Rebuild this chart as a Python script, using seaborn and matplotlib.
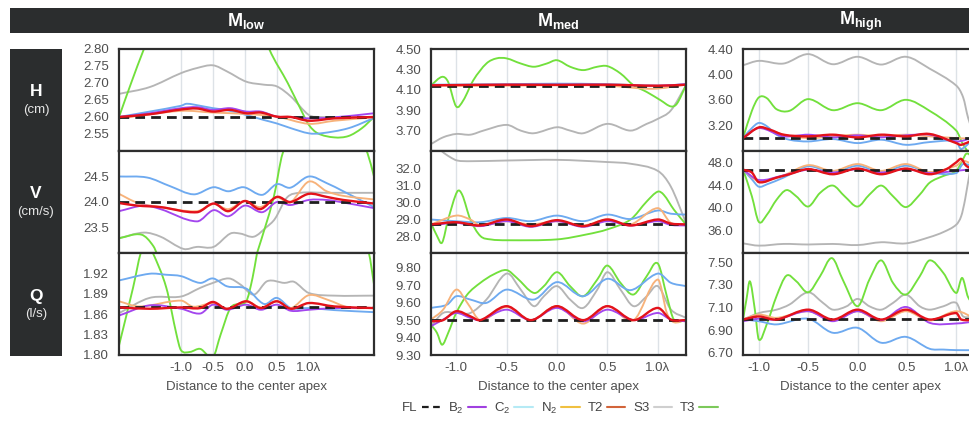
import numpy as np
import matplotlib
matplotlib.use("Agg")
import matplotlib.pyplot as plt
import seaborn as sns
from matplotlib.path import Path
from matplotlib.patches import PathPatch, Rectangle
from matplotlib.lines import Line2D
from matplotlib.ticker import FixedLocator, FormatStrFormatter

# ------------------------------------------------------------------
# Data: distance to the center apex (in wavelengths) vs. H, V, Q
# for three discharge levels (low / med / high) and six bed models.
# ------------------------------------------------------------------
SERIES = ["B2", "C2", "N2", "T2", "S3", "T3"]

# ---------------- M_low ----------------
HL_FL = 2.60
HL_B2_X = [-1.97, -1.49, -1.0, -0.75, -0.5, -0.23, 0.02, 0.25, 0.5, 0.72, 1.0, 1.4, 2.02]
HL_B2 = [2.600, 2.611, 2.626, 2.629, 2.621, 2.626, 2.616, 2.616, 2.601, 2.600, 2.596, 2.599, 2.611]
HL_C2_X = [-1.97, -1.49, -1.0, -0.91, -0.70, -0.5, -0.28, 0.02, 0.30, 0.5, 0.72, 1.0, 1.19, 1.62, 2.02]
HL_C2 = [2.600, 2.616, 2.633, 2.639, 2.633, 2.626, 2.620, 2.606, 2.591, 2.581, 2.567, 2.552, 2.552, 2.567, 2.597]
HL_N2_X = [-1.97, -1.0, -0.5, 0.02, 0.5, 1.0, 1.4, 2.02]
HL_N2 = [2.596, 2.618, 2.613, 2.609, 2.601, 2.580, 2.589, 2.599]
HL_T2_X = [-1.97, -1.49, -1.0, -0.75, -0.5, -0.23, 0.02, 0.25, 0.5, 0.72, 1.0, 1.4, 2.02]
HL_T2 = [2.600, 2.608, 2.622, 2.625, 2.616, 2.621, 2.611, 2.613, 2.601, 2.600, 2.589, 2.596, 2.600]
HL_S3_X = [-1.97, -1.49, -1.0, -0.75, -0.5, -0.28, 0.02, 0.30, 0.5, 0.72, 1.0, 1.19, 1.4, 2.02]
HL_S3 = [2.668, 2.688, 2.729, 2.744, 2.752, 2.734, 2.704, 2.695, 2.690, 2.660, 2.606, 2.600, 2.600, 2.600]
HL_T3_X = [-1.97, -1.78, -1.58, -1.3, -0.9, -0.5, -0.1, 0.2, 0.38, 0.67, 0.88, 1.0, 1.14, 1.4, 1.62, 1.83, 2.02]
HL_T3 = [2.600, 2.700, 2.800, 2.930, 3.000, 3.020, 2.980, 2.900, 2.800, 2.700, 2.620, 2.577, 2.552, 2.540, 2.544, 2.567, 2.600]

VL_FL = 24.0
VL_B2_X = [-1.97, -1.58, -1.32, -0.75, -0.49, -0.26, 0.0, 0.27, 0.5, 0.71, 1.0, 1.28, 1.54, 2.02]
VL_B2 = [23.82, 23.93, 23.86, 23.62, 23.84, 23.72, 23.93, 23.80, 24.00, 23.94, 24.04, 24.04, 23.99, 23.88]
VL_C2_X = [-1.97, -1.53, -1.17, -0.80, -0.49, -0.26, -0.02, 0.27, 0.5, 0.71, 1.0, 1.28, 1.54, 2.02]
VL_C2 = [24.50, 24.48, 24.31, 24.15, 24.29, 24.21, 24.29, 24.14, 24.35, 24.28, 24.50, 24.37, 24.21, 23.90]
VL_N2_X = [-1.97, -1.69, -1.32, -0.75, -0.49, -0.26, 0.0, 0.24, 0.5, 0.71, 1.0, 1.28, 1.54, 2.02]
VL_N2 = [24.16, 23.99, 23.90, 23.82, 23.96, 23.86, 24.02, 23.90, 24.09, 23.99, 24.40, 24.21, 24.12, 24.05]
VL_T2_X = [-1.97, -1.69, -1.32, -0.75, -0.49, -0.26, 0.0, 0.24, 0.5, 0.71, 1.0, 1.28, 1.54, 2.02]
VL_T2 = [23.98, 23.93, 23.90, 23.80, 23.97, 23.82, 24.02, 23.86, 24.10, 24.00, 24.16, 24.10, 24.04, 23.97]
VL_S3_X = [-1.97, -1.58, -1.32, -0.96, -0.75, -0.49, -0.23, -0.07, 0.14, 0.34, 0.47, 0.66, 0.86, 1.28, 2.02]
VL_S3 = [23.29, 23.40, 23.32, 23.08, 23.12, 23.12, 23.38, 23.38, 23.32, 23.51, 23.67, 24.09, 24.18, 24.18, 24.18]
VL_T3_X = [-1.97, -1.62, -1.43, -1.32, -1.0, -0.5, 0.0, 0.19, 0.45, 0.59, 0.9, 1.3, 1.7, 1.92, 2.02]
VL_T3 = [23.29, 23.36, 23.13, 22.81, 22.20, 21.90, 22.30, 23.00, 24.09, 24.95, 25.80, 26.00, 25.60, 24.95, 24.50]

QL_FL = 1.87
QL_B2_X = [-1.97, -1.49, -1.0, -0.70, -0.5, -0.28, 0.02, 0.25, 0.5, 0.72, 1.0, 1.4, 2.02]
QL_B2 = [1.858, 1.873, 1.868, 1.861, 1.874, 1.8665, 1.874, 1.8665, 1.874, 1.865, 1.8665, 1.869, 1.869]
QL_C2_X = [-1.97, -1.49, -1.23, -1.0, -0.70, -0.5, -0.28, 0.02, 0.30, 0.5, 0.72, 1.0, 1.4, 2.02]
QL_C2 = [1.9096, 1.9195, 1.918, 1.916, 1.906, 1.9126, 1.901, 1.8977, 1.875, 1.884, 1.869, 1.869, 1.866, 1.863]
QL_N2_X = [-1.97, -1.65, -1.0, -0.81, -0.5, -0.28, 0.02, 0.25, 0.5, 0.72, 1.0, 1.3, 1.62, 2.02]
QL_N2 = [1.879, 1.8714, 1.880, 1.871, 1.876, 1.868, 1.879, 1.870, 1.879, 1.869, 1.888, 1.881, 1.870, 1.869]
QL_T2_X = [-1.97, -1.49, -1.0, -0.70, -0.5, -0.28, 0.02, 0.25, 0.5, 0.72, 1.0, 1.4, 2.02]
QL_T2 = [1.870, 1.868, 1.870, 1.869, 1.878, 1.868, 1.879, 1.869, 1.879, 1.868, 1.8764, 1.8714, 1.869]
QL_S3_X = [-1.97, -1.49, -1.0, -0.70, -0.5, -0.25, -0.07, 0.14, 0.35, 0.62, 0.77, 1.0, 1.4, 2.02]
QL_S3 = [1.8615, 1.884, 1.886, 1.8987, 1.906, 1.9126, 1.9036, 1.8888, 1.9086, 1.906, 1.9076, 1.8912, 1.8873, 1.8873]
QL_T3_X = [-1.97, -1.75, -1.63, -1.54, -1.44, -1.23, -1.07, -1.0, -0.86, -0.70, -0.5, -0.38, -0.22, 0.02, 0.12, 0.19, 0.4, 0.9, 1.5, 1.94, 2.02]
QL_T3 = [1.814, 1.899, 1.950, 1.965, 1.950, 1.899, 1.830, 1.807, 1.8045, 1.809, 1.797, 1.830, 1.870, 1.879, 1.9136, 1.950, 2.050, 2.150, 2.100, 1.950, 1.904]

# ---------------- M_med ----------------
HM_FL = 4.14
HM_B2_X = [-1.25, -0.5, 0.0, 0.5, 1.0, 1.28]
HM_B2 = [4.145, 4.150, 4.150, 4.150, 4.140, 4.155]
HM_C2_X = [-1.25, -0.5, 0.0, 0.5, 1.0, 1.28]
HM_C2 = [4.150, 4.155, 4.160, 4.155, 4.140, 4.155]
HM_N2_X = [-1.25, -0.5, 0.0, 0.5, 0.95, 1.28]
HM_N2 = [4.140, 4.140, 4.145, 4.140, 4.110, 4.150]
HM_T2_X = [-1.25, -0.5, 0.0, 0.5, 1.0, 1.28]
HM_T2 = [4.144, 4.150, 4.148, 4.150, 4.140, 4.150]
HM_S3_X = [-1.25, -1.13, -1.0, -0.86, -0.73, -0.5, -0.36, -0.23, 0.0, 0.13, 0.26, 0.5, 0.73, 0.89, 1.0, 1.13, 1.28]
HM_S3 = [3.568, 3.634, 3.667, 3.660, 3.700, 3.756, 3.700, 3.674, 3.733, 3.700, 3.674, 3.766, 3.700, 3.766, 3.815, 3.898, 4.144]
HM_T3_X = [-1.25, -1.14, -1.08, -1.0, -0.93, -0.83, -0.70, -0.60, -0.5, -0.36, -0.23, -0.10, 0.0, 0.13, 0.26, 0.40, 0.5, 0.63, 0.76, 0.89, 1.03, 1.13, 1.19, 1.28]
HM_T3 = [4.144, 4.227, 4.177, 3.937, 3.996, 4.194, 4.358, 4.408, 4.408, 4.358, 4.326, 4.358, 4.390, 4.326, 4.293, 4.326, 4.332, 4.260, 4.144, 4.079, 3.996, 3.937, 3.964, 4.144]

VM_FL = 28.7
VM_B2_X = [-1.25, -1.0, -0.76, -0.5, -0.26, 0.0, 0.26, 0.5, 0.73, 1.0, 1.13, 1.28]
VM_B2 = [28.62, 28.77, 28.58, 28.87, 28.54, 28.87, 28.54, 28.87, 28.62, 28.87, 28.65, 28.62]
VM_C2_X = [-1.25, -1.0, -0.76, -0.5, -0.26, 0.0, 0.26, 0.5, 0.73, 1.0, 1.13, 1.28]
VM_C2 = [28.97, 28.87, 28.81, 29.06, 28.87, 29.20, 28.87, 29.26, 29.00, 29.50, 29.31, 29.26]
VM_N2_X = [-1.25, -1.0, -0.86, -0.76, -0.5, -0.26, 0.0, 0.26, 0.5, 0.73, 1.0, 1.13, 1.28]
VM_N2 = [28.68, 29.20, 28.97, 28.62, 28.87, 28.68, 28.87, 28.62, 28.97, 28.68, 29.64, 28.77, 28.68]
VM_T2_X = [-1.25, -1.0, -0.76, -0.5, -0.26, 0.0, 0.26, 0.5, 0.73, 1.0, 1.13, 1.28]
VM_T2 = [28.68, 28.81, 28.62, 28.97, 28.58, 28.93, 28.58, 28.97, 28.62, 28.97, 28.73, 28.68]
VM_S3_X = [-1.25, -1.14, -1.06, -0.99, -0.86, -0.5, 0.0, 0.5, 0.73, 1.0, 1.13, 1.28]
VM_S3 = [33.60, 32.97, 32.64, 32.44, 32.40, 32.44, 32.48, 32.35, 32.25, 31.83, 30.90, 28.77]
VM_T3_X = [-1.25, -1.19, -1.14, -1.08, -0.99, -0.94, -0.86, -0.76, -0.66, -0.5, 0.0, 0.30, 0.5, 0.73, 0.89, 1.0, 1.06, 1.16, 1.28]
VM_T3 = [28.77, 28.00, 27.61, 28.97, 30.61, 30.42, 28.97, 28.00, 27.80, 27.75, 27.80, 28.10, 28.39, 28.97, 30.03, 30.61, 30.42, 29.55, 28.68]

QM_FL = 9.50
QM_B2_X = [-1.25, -1.13, -1.0, -0.86, -0.76, -0.5, -0.26, 0.0, 0.26, 0.5, 0.76, 1.0, 1.13, 1.28]
QM_B2 = [9.465, 9.503, 9.541, 9.513, 9.500, 9.560, 9.500, 9.570, 9.493, 9.560, 9.500, 9.541, 9.503, 9.493]
QM_C2_X = [-1.25, -1.09, -1.0, -0.86, -0.70, -0.5, -0.23, 0.0, 0.26, 0.5, 0.73, 1.0, 1.13, 1.28]
QM_C2 = [9.570, 9.589, 9.637, 9.618, 9.599, 9.675, 9.618, 9.718, 9.637, 9.737, 9.672, 9.767, 9.714, 9.695]
QM_N2_X = [-1.25, -1.13, -1.0, -0.89, -0.76, -0.5, -0.26, 0.0, 0.26, 0.5, 0.76, 1.0, 1.09, 1.16, 1.28]
QM_N2 = [9.503, 9.560, 9.675, 9.599, 9.500, 9.576, 9.500, 9.580, 9.480, 9.580, 9.500, 9.733, 9.541, 9.488, 9.503]
QM_T2_X = [-1.25, -1.13, -1.0, -0.86, -0.76, -0.5, -0.26, 0.0, 0.26, 0.5, 0.76, 1.0, 1.13, 1.28]
QM_T2 = [9.493, 9.500, 9.551, 9.522, 9.500, 9.580, 9.500, 9.580, 9.500, 9.580, 9.500, 9.570, 9.503, 9.500]
QM_S3_X = [-1.25, -1.13, -1.0, -0.86, -0.70, -0.5, -0.36, -0.23, -0.13, 0.0, 0.13, 0.26, 0.40, 0.5, 0.63, 0.76, 0.89, 1.0, 1.13, 1.28]
QM_S3 = [9.465, 9.541, 9.541, 9.541, 9.618, 9.767, 9.675, 9.580, 9.637, 9.695, 9.618, 9.570, 9.675, 9.775, 9.675, 9.580, 9.637, 9.695, 9.561, 9.513]
QM_T3_X = [-1.25, -1.19, -1.14, -1.08, -1.0, -0.89, -0.76, -0.63, -0.5, -0.40, -0.23, -0.13, 0.0, 0.13, 0.26, 0.40, 0.5, 0.63, 0.76, 0.89, 1.0, 1.09, 1.16, 1.28]
QM_T3 = [9.474, 9.426, 9.359, 9.426, 9.541, 9.647, 9.714, 9.762, 9.787, 9.743, 9.656, 9.695, 9.775, 9.695, 9.637, 9.733, 9.813, 9.714, 9.647, 9.752, 9.825, 9.637, 9.503, 9.500]

# ---------------- M_high ----------------
HH_FL = 3.00
HH_B2_X = [-1.16, -1.0, -0.75, -0.5, -0.25, 0.0, 0.24, 0.49, 0.73, 1.0, 1.21]
HH_B2 = [3.000, 3.160, 3.030, 3.056, 3.014, 3.046, 3.014, 3.046, 3.056, 2.950, 3.030]
HH_C2_X = [-1.16, -1.07, -1.0, -0.92, -0.82, -0.69, -0.5, -0.25, 0.0, 0.24, 0.49, 0.73, 1.0, 1.05, 1.21]
HH_C2 = [3.003, 3.160, 3.240, 3.190, 3.056, 2.977, 2.950, 2.987, 2.924, 2.977, 2.897, 2.940, 2.950, 2.830, 3.060]
HH_N2_X = [-1.16, -1.0, -0.75, -0.5, -0.25, 0.0, 0.24, 0.49, 0.73, 1.0, 1.21]
HH_N2 = [3.003, 3.160, 3.056, 3.003, 3.030, 3.056, 3.030, 3.056, 3.030, 3.003, 2.990]
HH_T2_X = [-1.16, -1.0, -0.89, -0.75, -0.5, -0.25, 0.0, 0.24, 0.49, 0.73, 1.0, 1.05, 1.21]
HH_T2 = [3.003, 3.170, 3.136, 3.056, 3.030, 3.056, 3.014, 3.056, 3.030, 3.067, 2.924, 2.897, 3.003]
HH_S3_X = [-1.16, -1.0, -0.75, -0.5, -0.25, 0.0, 0.24, 0.49, 0.73, 1.0, 1.07, 1.12, 1.21]
HH_S3 = [4.145, 4.214, 4.172, 4.320, 4.161, 4.278, 4.156, 4.278, 4.092, 3.826, 3.640, 3.320, 2.900]
HH_T3_X = [-1.16, -1.07, -1.0, -0.92, -0.82, -0.69, -0.5, -0.25, 0.0, 0.24, 0.49, 0.73, 1.0, 1.07, 1.21]
HH_T3 = [3.003, 3.430, 3.640, 3.630, 3.455, 3.430, 3.614, 3.440, 3.550, 3.440, 3.603, 3.430, 3.120, 2.900, 2.600]

VH_FL = 46.7
VH_B2_X = [-1.16, -1.0, -0.75, -0.5, -0.25, 0.0, 0.24, 0.49, 0.73, 1.0, 1.21]
VH_B2 = [46.7, 44.9, 45.7, 46.7, 46.2, 46.8, 46.2, 46.8, 46.1, 46.5, 46.9]
VH_C2_X = [-1.16, -1.07, -1.0, -0.92, -0.75, -0.5, -0.25, 0.0, 0.24, 0.49, 0.73, 1.0, 1.07, 1.21]
VH_C2 = [46.7, 45.0, 43.7, 44.1, 45.3, 47.3, 46.2, 47.4, 46.2, 47.4, 46.2, 46.1, 47.7, 46.8]
VH_N2_X = [-1.16, -1.0, -0.75, -0.5, -0.25, 0.0, 0.24, 0.49, 0.73, 1.0, 1.07, 1.21]
VH_N2 = [46.7, 44.7, 45.7, 47.5, 46.5, 47.7, 46.5, 47.7, 46.3, 47.4, 48.3, 47.1]
VH_T2_X = [-1.16, -1.07, -1.0, -0.82, -0.69, -0.5, -0.25, 0.0, 0.24, 0.49, 0.73, 0.9, 1.0, 1.05, 1.1, 1.21]
VH_T2 = [46.7, 46.2, 44.5, 45.3, 45.9, 46.8, 45.9, 46.9, 45.9, 46.9, 45.9, 46.8, 48.0, 48.6, 47.4, 46.5]
VH_S3_X = [-1.16, -1.0, -0.75, -0.5, -0.25, 0.0, 0.24, 0.49, 0.73, 0.87, 1.0, 1.05, 1.09, 1.14, 1.21]
VH_S3 = [33.7, 33.3, 33.6, 33.5, 33.6, 33.4, 33.9, 33.7, 34.8, 35.7, 37.0, 38.5, 41.5, 46.5, 52.0]
VH_T3_X = [-1.16, -1.07, -1.0, -0.92, -0.82, -0.72, -0.62, -0.5, -0.38, -0.25, -0.13, 0.0, 0.12, 0.24, 0.36, 0.49, 0.63, 0.73, 0.87, 1.0, 1.07, 1.10, 1.14, 1.21]
VH_T3 = [46.8, 42.0, 37.5, 38.7, 41.4, 43.1, 42.0, 40.2, 42.6, 43.9, 42.0, 40.2, 42.3, 43.9, 42.0, 40.1, 42.3, 44.4, 45.6, 46.5, 48.6, 49.5, 49.2, 46.5]

QH_FL = 7.00
QH_B2_X = [-1.16, -1.0, -0.82, -0.5, -0.25, 0.0, 0.24, 0.49, 0.73, 1.0, 1.21]
QH_B2 = [6.978, 7.000, 6.993, 7.066, 6.978, 7.066, 6.987, 7.104, 6.964, 6.958, 6.978]
QH_C2_X = [-1.16, -1.0, -0.82, -0.5, -0.25, 0.0, 0.24, 0.49, 0.73, 0.87, 1.0, 1.21]
QH_C2 = [6.993, 6.978, 6.950, 7.000, 6.876, 6.920, 6.788, 6.840, 6.735, 6.728, 6.723, 6.723]
QH_N2_X = [-1.16, -1.0, -0.82, -0.5, -0.25, 0.0, 0.24, 0.49, 0.73, 1.0, 1.21]
QH_N2 = [6.993, 7.037, 7.008, 7.066, 6.984, 7.066, 6.978, 7.066, 6.984, 7.066, 6.993]
QH_T2_X = [-1.16, -1.0, -0.82, -0.5, -0.25, 0.0, 0.24, 0.49, 0.73, 1.0, 1.05, 1.21]
QH_T2 = [6.993, 7.020, 6.993, 7.080, 6.993, 7.080, 6.993, 7.080, 6.993, 7.050, 6.993, 6.993]
QH_S3_X = [-1.16, -1.0, -0.82, -0.69, -0.5, -0.35, -0.25, -0.11, 0.0, 0.12, 0.24, 0.36, 0.49, 0.63, 0.73, 0.87, 1.0, 1.07, 1.21]
QH_S3 = [6.993, 7.050, 7.080, 7.125, 7.233, 7.140, 7.080, 7.110, 7.175, 7.110, 7.080, 7.140, 7.213, 7.110, 7.080, 7.110, 7.140, 7.020, 7.037]
QH_T3_X = [-1.16, -1.125, -1.09, -1.04, -1.0, -0.92, -0.82, -0.72, -0.62, -0.5, -0.38, -0.26, -0.15, 0.0, 0.12, 0.24, 0.36, 0.49, 0.63, 0.73, 0.87, 1.0, 1.06, 1.12, 1.21]
QH_T3 = [6.993, 7.170, 7.330, 7.080, 6.817, 6.950, 7.200, 7.380, 7.330, 7.233, 7.374, 7.535, 7.345, 7.110, 7.345, 7.515, 7.315, 7.213, 7.374, 7.515, 7.403, 7.227, 7.360, 7.190, 7.100]

# Axis ranges and tick labels
COLUMN_TITLES = ["low", "med", "high"]
ROW_NAMES = ["H", "V", "Q"]
ROW_UNITS = ["(cm)", "(cm/s)", "(l/s)"]
X_LIMITS = [(-1.97, 2.02), (-1.25, 1.28), (-1.16, 1.21)]
X_TICKS = [-1.0, -0.5, 0.0, 0.5, 1.0]
X_TICK_LABELS = ["-1.0", "-0.5", "0.0", "0.5", "1.0λ"]
Y_LIMITS = [
    [(2.50, 2.80), (3.50, 4.50), (2.80, 4.40)],
    [(23.0, 25.0), (27.0, 33.0), (32.0, 50.0)],
    [(1.80, 1.95), (9.30, 9.885), (6.68, 7.58)],
]
Y_TICKS = [
    [[2.55, 2.60, 2.65, 2.70, 2.75, 2.80], [3.70, 3.90, 4.10, 4.30, 4.50], [3.20, 3.60, 4.00, 4.40]],
    [[23.5, 24.0, 24.5], [28.0, 29.0, 30.0, 31.0, 32.0], [36.0, 40.0, 44.0, 48.0]],
    [[1.80, 1.83, 1.86, 1.89, 1.92], [9.30, 9.40, 9.50, 9.60, 9.70, 9.80], [6.70, 6.90, 7.10, 7.30, 7.50]],
]
Y_FORMATS = ["%.2f", "%.1f", "%.2f"]

g = globals()
PANELS = {}
for r, rk in enumerate(["H", "V", "Q"]):
    for c, ck in enumerate(["L", "M", "H"]):
        key = rk + ck
        PANELS[(r, c)] = {
            "FL": g[key + "_FL"],
            "series": {s: (g[f"{key}_{s}_X"], g[f"{key}_{s}"]) for s in SERIES},
        }

# ------------------------------------------------------------------
# Style
# ------------------------------------------------------------------
sns.set_theme(style="white")
plt.rcParams.update({
    "font.family": ["Liberation Sans", "DejaVu Sans"],
    "mathtext.fontset": "custom",
    "mathtext.rm": "Liberation Sans",
    "mathtext.it": "Liberation Sans:italic",
    "mathtext.bf": "Liberation Sans:bold",
    "mathtext.default": "regular",
})

LINE_COLORS = {"B2": "#a346ee", "C2": "#6eaaf0", "N2": "#f7b27a",
               "T2": "#e3121b", "S3": "#b5b5b5", "T3": "#72e03c"}
KEY_COLORS = {"B2": "#a040e0", "C2": "#b5eaf5", "N2": "#f0c040",
              "T2": "#d2643a", "S3": "#cfcfcf", "T3": "#7cc95a"}
LINE_WIDTHS = {"B2": 1.35, "C2": 1.35, "N2": 1.35, "T2": 1.7, "S3": 1.35, "T3": 1.35}
ZORDER = {"S3": 2.0, "T3": 2.1, "C2": 2.2, "N2": 2.3, "B2": 2.4, "T2": 2.6}
FL_COLOR = "#1e1e1e"
DARK = "#2b2d2e"
SPINE = "#2e2e2e"
TEXT = "#4f4f4f"

W, H = 970, 422
fig = plt.figure(figsize=(W / 100, H / 100), dpi=100)


def fx(px):
    return px / W


def fy(py):
    return 1 - py / H


COL_LEFT = [119, 431, 743]
COL_WIDTH = [255, 255, 234]
ROW_TOP = [49, 151, 253]
ROW_HEIGHT = 102


def smooth_path(x, y):
    """Cubic Hermite curve through the given points, as a Bezier path."""
    x = np.asarray(x, float)
    y = np.asarray(y, float)
    m = np.empty_like(y)
    m[0] = (y[1] - y[0]) / (x[1] - x[0])
    m[-1] = (y[-1] - y[-2]) / (x[-1] - x[-2])
    m[1:-1] = (y[2:] - y[:-2]) / (x[2:] - x[:-2])
    verts = [(x[0], y[0])]
    codes = [Path.MOVETO]
    for i in range(len(x) - 1):
        d = (x[i + 1] - x[i]) / 3.0
        verts += [(x[i] + d, y[i] + m[i] * d),
                  (x[i + 1] - d, y[i + 1] - m[i + 1] * d),
                  (x[i + 1], y[i + 1])]
        codes += [Path.CURVE4] * 3
    return Path(verts, codes)


# Header bar and row-label strip
fig.patches.append(Rectangle((fx(10), fy(33)), fx(960), (33 - 8) / H,
                             transform=fig.transFigure, facecolor=DARK,
                             edgecolor="none", zorder=0))
fig.patches.append(Rectangle((fx(10), fy(356)), fx(52), (356 - 49) / H,
                             transform=fig.transFigure, facecolor=DARK,
                             edgecolor="none", zorder=0))

for c, name in enumerate(COLUMN_TITLES):
    cx = COL_LEFT[c] + COL_WIDTH[c] / 2
    fig.text(fx(cx), fy(21), r"$\mathbf{M}_{\mathbf{%s}}$" % name,
             ha="center", va="center", color="white", fontsize=13)

for r in range(3):
    cy = ROW_TOP[r] + ROW_HEIGHT / 2
    fig.text(fx(36), fy(cy - 8), ROW_NAMES[r], ha="center", va="center",
             color="white", fontsize=12.5, fontweight="bold")
    fig.text(fx(36), fy(cy + 10), ROW_UNITS[r], ha="center", va="center",
             color="#e6e6e6", fontsize=9.5)

for (r, c), panel in PANELS.items():
    ax = fig.add_axes([fx(COL_LEFT[c]), fy(ROW_TOP[r] + ROW_HEIGHT),
                       fx(COL_WIDTH[c]), ROW_HEIGHT / H])
    ax.set_facecolor("white")
    x0, x1 = X_LIMITS[c]
    ax.set_xlim(x0, x1)
    ax.set_ylim(*Y_LIMITS[r][c])

    for name in SERIES:
        xs, ys = panel["series"][name]
        patch = PathPatch(smooth_path(xs, ys), facecolor="none",
                          edgecolor=LINE_COLORS[name], lw=LINE_WIDTHS[name],
                          zorder=ZORDER[name], capstyle="round",
                          joinstyle="round")
        ax.add_patch(patch)

    xs_all = np.concatenate([panel["series"][s][0] for s in SERIES])
    sns.lineplot(x=[xs_all.min(), xs_all.max()], y=[panel["FL"]] * 2, ax=ax,
                 color=FL_COLOR, lw=2.0, dashes=(3.5, 2.2), zorder=2.5)

    ax.xaxis.set_major_locator(FixedLocator(X_TICKS))
    ax.set_xticklabels(X_TICK_LABELS)
    ax.yaxis.set_major_locator(FixedLocator(Y_TICKS[r][c]))
    ax.yaxis.set_major_formatter(FormatStrFormatter(Y_FORMATS[r]))
    ax.grid(axis="x", color="#dde2e7", lw=1.0, zorder=0)
    ax.grid(axis="y", visible=False)
    ax.tick_params(axis="both", length=0, labelsize=9.5, labelcolor=TEXT)
    ax.tick_params(axis="y", pad=7)
    ax.tick_params(axis="x", pad=5, labelbottom=(r == 2))
    for sp in ax.spines.values():
        sp.set_color(SPINE)
        sp.set_linewidth(1.6)
        sp.set_zorder(3)
    if r == 2:
        ax.set_xlabel("Distance to the center apex", fontsize=9.5, color=TEXT,
                      labelpad=5)
    else:
        ax.set_xlabel("")
    ax.set_ylabel("")

# Legend: label first, then the line sample
handles = [Line2D([], [], color=FL_COLOR, lw=1.6, dashes=(3.0, 2.0))]
labels = ["FL"]
names = {"B2": "B$_2$", "C2": "C$_2$", "N2": "N$_2$", "T2": "T2", "S3": "S3", "T3": "T3"}
for s in SERIES:
    handles.append(Line2D([], [], color=KEY_COLORS[s], lw=1.5))
    labels.append(names[s])
leg = fig.legend(handles, labels, loc="center", bbox_to_anchor=(fx(560), fy(408)),
                 ncol=7, frameon=False, markerfirst=False, fontsize=9.5,
                 handlelength=1.4, handletextpad=0.3, columnspacing=0.6,
                 borderpad=0.0)
for t in leg.get_texts():
    t.set_color("#444444")

fig.savefig("out.png", dpi=100)
